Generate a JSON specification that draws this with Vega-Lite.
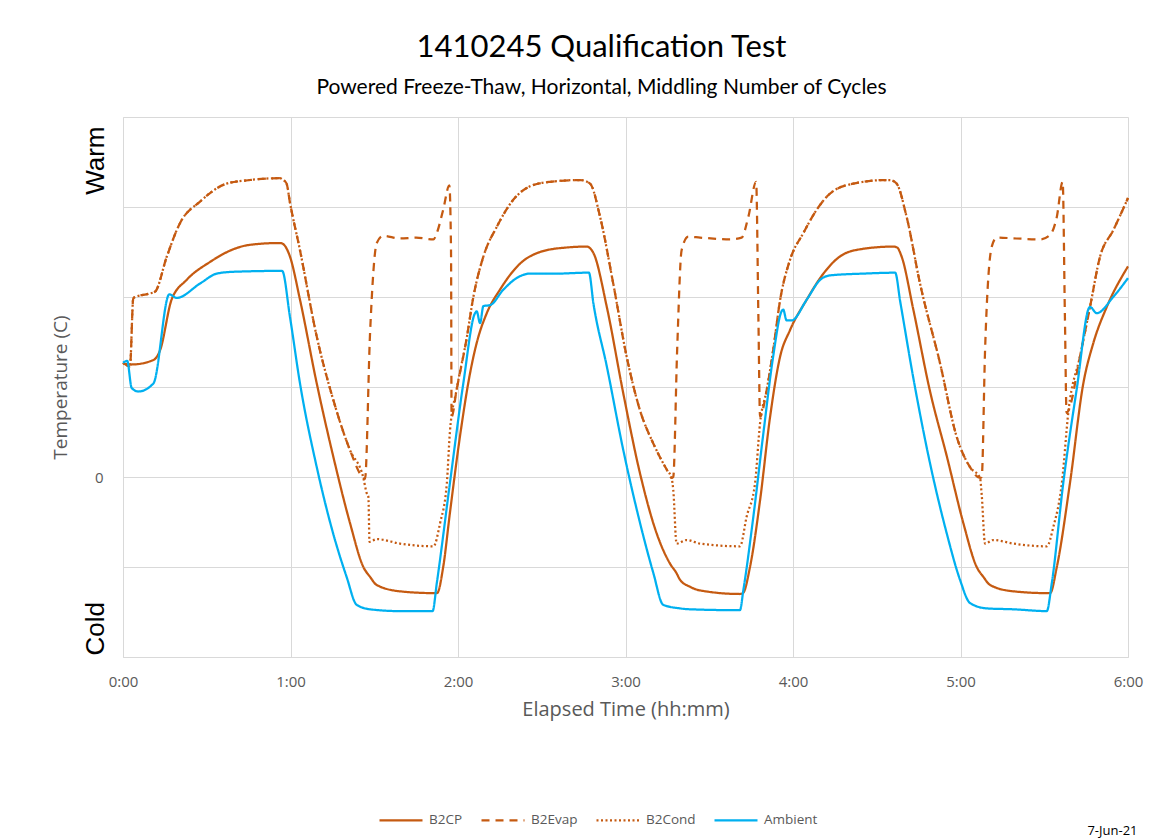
{
  "$schema": "https://vega.github.io/schema/vega-lite/v6.json",
  "width": 1005,
  "height": 540,
  "autosize": "none",
  "padding": {"left": 123, "top": 117, "right": 45, "bottom": 182},
  "background": "white",
  "config": {"view": {"stroke": null}, "font": "Open Sans"},
  "title": {
    "text": "1410245 Qualification Test",
    "subtitle": "Powered Freeze-Thaw, Horizontal, Middling Number of Cycles",
    "font": "Lato", "fontSize": 31, "fontWeight": "normal", "color": "black",
    "subtitleFont": "Lato", "subtitleFontSize": 21, "subtitleColor": "black",
    "anchor": "middle", "frame": "group", "dx": -24, "offset": 18, "subtitlePadding": 13
  },
  "datasets": {
    "temps": [
      {"series":"B2CP","min":0,"temp":12.6},{"series":"B2CP","min":3.1,"temp":12.5},{"series":"B2CP","min":10.9,"temp":13.0},{"series":"B2CP","min":13.3,"temp":14.1},{"series":"B2CP","min":17.4,"temp":19.7},{"series":"B2CP","min":22.8,"temp":21.9},{"series":"B2CP","min":31.2,"temp":23.9},{"series":"B2CP","min":39.5,"temp":25.3},{"series":"B2CP","min":45.5,"temp":25.8},{"series":"B2CP","min":56.3,"temp":26.0},{"series":"B2CP","min":57.3,"temp":25.9},{"series":"B2CP","min":59.8,"temp":24.5},{"series":"B2CP","min":63.4,"temp":19.7},{"series":"B2CP","min":69.4,"temp":10.4},{"series":"B2CP","min":75.3,"temp":2.3},{"series":"B2CP","min":81.3,"temp":-5.1},{"series":"B2CP","min":86.1,"temp":-10.0},{"series":"B2CP","min":88.5,"temp":-11.1},{"series":"B2CP","min":90.9,"temp":-12.0},{"series":"B2CP","min":99.2,"temp":-12.7},{"series":"B2CP","min":111.2,"temp":-12.9},{"series":"B2CP","min":112.5,"temp":-12.9},{"series":"B2CP","min":114.7,"temp":-10.0},{"series":"B2CP","min":117.1,"temp":-4.0},{"series":"B2CP","min":120.7,"temp":4.5},{"series":"B2CP","min":124.3,"temp":11.5},{"series":"B2CP","min":126.7,"temp":14.9},{"series":"B2CP","min":130.3,"temp":18.2},{"series":"B2CP","min":135.0,"temp":20.8},{"series":"B2CP","min":142.2,"temp":23.7},{"series":"B2CP","min":149.4,"temp":25.0},{"series":"B2CP","min":158.9,"temp":25.5},{"series":"B2CP","min":166.1,"temp":25.6},{"series":"B2CP","min":168.5,"temp":24.9},{"series":"B2CP","min":173.3,"temp":18.9},{"series":"B2CP","min":179.2,"temp":9.3},{"series":"B2CP","min":185.2,"temp":0.4},{"series":"B2CP","min":191.2,"temp":-6.3},{"series":"B2CP","min":195.9,"temp":-9.6},{"series":"B2CP","min":198.3,"temp":-10.7},{"series":"B2CP","min":199.5,"temp":-11.4},{"series":"B2CP","min":203.1,"temp":-12.2},{"series":"B2CP","min":206.7,"temp":-12.6},{"series":"B2CP","min":221.0,"temp":-13.0},{"series":"B2CP","min":222.1,"temp":-12.9},{"series":"B2CP","min":224.6,"temp":-10.0},{"series":"B2CP","min":228.2,"temp":-2.6},{"series":"B2CP","min":231.8,"temp":6.7},{"series":"B2CP","min":235.4,"temp":13.4},{"series":"B2CP","min":238.9,"temp":16.3},{"series":"B2CP","min":244.9,"temp":19.7},{"series":"B2CP","min":250.9,"temp":22.6},{"series":"B2CP","min":256.8,"temp":24.5},{"series":"B2CP","min":264.0,"temp":25.3},{"series":"B2CP","min":275.9,"temp":25.6},{"series":"B2CP","min":277.3,"temp":25.5},{"series":"B2CP","min":278.9,"temp":24.5},{"series":"B2CP","min":283.1,"temp":18.6},{"series":"B2CP","min":289.1,"temp":9.5},{"series":"B2CP","min":295.1,"temp":2.3},{"series":"B2CP","min":301.0,"temp":-5.1},{"series":"B2CP","min":305.8,"temp":-10.0},{"series":"B2CP","min":308.2,"temp":-11.1},{"series":"B2CP","min":310.6,"temp":-12.0},{"series":"B2CP","min":318.9,"temp":-12.7},{"series":"B2CP","min":330.9,"temp":-12.9},{"series":"B2CP","min":332.1,"temp":-12.9},{"series":"B2CP","min":334.5,"temp":-10.0},{"series":"B2CP","min":339.2,"temp":-0.7},{"series":"B2CP","min":344.0,"temp":10.4},{"series":"B2CP","min":347.6,"temp":14.9},{"series":"B2CP","min":352.4,"temp":18.9},{"series":"B2CP","min":360,"temp":23.4},

      {"series":"B2Evap","min":0,"temp":12.7},{"series":"B2Evap","min":2.5,"temp":12.3},{"series":"B2Evap","min":3.7,"temp":19.9},{"series":"B2Evap","min":9.7,"temp":20.4},{"series":"B2Evap","min":11.5,"temp":20.6},{"series":"B2Evap","min":15.7,"temp":24.5},{"series":"B2Evap","min":20.4,"temp":28.2},{"series":"B2Evap","min":27.6,"temp":30.6},{"series":"B2Evap","min":37.1,"temp":32.6},{"series":"B2Evap","min":45.5,"temp":33.0},{"series":"B2Evap","min":56.2,"temp":33.2},{"series":"B2Evap","min":57.4,"temp":33.0},{"series":"B2Evap","min":58.6,"temp":32.6},{"series":"B2Evap","min":59.8,"temp":30.5},{"series":"B2Evap","min":63.4,"temp":25.2},{"series":"B2Evap","min":69.4,"temp":15.6},{"series":"B2Evap","min":75.3,"temp":8.6},{"series":"B2Evap","min":81.3,"temp":3.0},{"series":"B2Evap","min":86.1,"temp":-0.1},{"series":"B2Evap","min":86.7,"temp":-0.2},{"series":"B2Evap","min":88.5,"temp":16.0},{"series":"B2Evap","min":90.9,"temp":26.0},{"series":"B2Evap","min":93.2,"temp":26.8},{"series":"B2Evap","min":99.2,"temp":26.5},{"series":"B2Evap","min":105.0,"temp":26.6},{"series":"B2Evap","min":111.2,"temp":26.4},{"series":"B2Evap","min":112.4,"temp":27.1},{"series":"B2Evap","min":114.7,"temp":29.7},{"series":"B2Evap","min":116.9,"temp":32.4},{"series":"B2Evap","min":117.5,"temp":25.2},{"series":"B2Evap","min":117.7,"temp":6.7},{"series":"B2Evap","min":119.5,"temp":9.7},{"series":"B2Evap","min":123.1,"temp":15.4},{"series":"B2Evap","min":125.5,"temp":20.0},{"series":"B2Evap","min":129.1,"temp":24.5},{"series":"B2Evap","min":133.9,"temp":27.8},{"series":"B2Evap","min":139.8,"temp":30.8},{"series":"B2Evap","min":145.8,"temp":32.3},{"series":"B2Evap","min":153.0,"temp":32.8},{"series":"B2Evap","min":163.7,"temp":33.0},{"series":"B2Evap","min":167.3,"temp":32.6},{"series":"B2Evap","min":170.9,"temp":28.9},{"series":"B2Evap","min":175.6,"temp":21.5},{"series":"B2Evap","min":180.4,"temp":13.4},{"series":"B2Evap","min":185.2,"temp":7.4},{"series":"B2Evap","min":190.0,"temp":3.7},{"series":"B2Evap","min":194.8,"temp":0.8},{"series":"B2Evap","min":196.5,"temp":-0.1},{"series":"B2Evap","min":197.1,"temp":0.0},{"series":"B2Evap","min":198.5,"temp":14.1},{"series":"B2Evap","min":200.1,"temp":25.2},{"series":"B2Evap","min":202.5,"temp":26.7},{"series":"B2Evap","min":206.7,"temp":26.6},{"series":"B2Evap","min":217.4,"temp":26.4},{"series":"B2Evap","min":221.6,"temp":26.6},{"series":"B2Evap","min":224.0,"temp":28.9},{"series":"B2Evap","min":226.8,"temp":32.8},{"series":"B2Evap","min":227.6,"temp":17.8},{"series":"B2Evap","min":228.2,"temp":6.7},{"series":"B2Evap","min":230.6,"temp":9.7},{"series":"B2Evap","min":232.9,"temp":14.1},{"series":"B2Evap","min":235.4,"temp":19.7},{"series":"B2Evap","min":238.9,"temp":24.1},{"series":"B2Evap","min":243.7,"temp":27.1},{"series":"B2Evap","min":248.5,"temp":29.7},{"series":"B2Evap","min":253.3,"temp":31.5},{"series":"B2Evap","min":261.6,"temp":32.6},{"series":"B2Evap","min":273.6,"temp":33.0},{"series":"B2Evap","min":274.7,"temp":33.0},{"series":"B2Evap","min":277.1,"temp":32.6},{"series":"B2Evap","min":280.7,"temp":28.9},{"series":"B2Evap","min":285.5,"temp":21.5},{"series":"B2Evap","min":292.7,"temp":12.6},{"series":"B2Evap","min":298.6,"temp":4.5},{"series":"B2Evap","min":303.4,"temp":1.1},{"series":"B2Evap","min":307.0,"temp":-0.1},{"series":"B2Evap","min":307.6,"temp":0.0},{"series":"B2Evap","min":308.8,"temp":14.1},{"series":"B2Evap","min":311.2,"temp":25.6},{"series":"B2Evap","min":313.0,"temp":26.6},{"series":"B2Evap","min":320.0,"temp":26.5},{"series":"B2Evap","min":328.5,"temp":26.4},{"series":"B2Evap","min":332.1,"temp":26.9},{"series":"B2Evap","min":334.5,"temp":28.9},{"series":"B2Evap","min":336.6,"temp":32.8},{"series":"B2Evap","min":337.4,"temp":17.8},{"series":"B2Evap","min":338.0,"temp":7.1},{"series":"B2Evap","min":338.7,"temp":7.4},{"series":"B2Evap","min":342.8,"temp":13.4},{"series":"B2Evap","min":346.4,"temp":18.9},{"series":"B2Evap","min":350.0,"temp":24.5},{"series":"B2Evap","min":354.7,"temp":27.4},{"series":"B2Evap","min":360,"temp":31.0},

      {"series":"B2Cond","min":0,"temp":12.7},{"series":"B2Cond","min":2.5,"temp":12.3},{"series":"B2Cond","min":3.7,"temp":19.9},{"series":"B2Cond","min":9.7,"temp":20.4},{"series":"B2Cond","min":11.5,"temp":20.6},{"series":"B2Cond","min":15.7,"temp":24.5},{"series":"B2Cond","min":20.4,"temp":28.2},{"series":"B2Cond","min":27.6,"temp":30.6},{"series":"B2Cond","min":37.1,"temp":32.6},{"series":"B2Cond","min":45.5,"temp":33.0},{"series":"B2Cond","min":56.2,"temp":33.2},{"series":"B2Cond","min":57.4,"temp":33.0},{"series":"B2Cond","min":58.6,"temp":32.6},{"series":"B2Cond","min":59.8,"temp":30.5},{"series":"B2Cond","min":63.4,"temp":25.2},{"series":"B2Cond","min":69.4,"temp":15.6},{"series":"B2Cond","min":75.3,"temp":8.6},{"series":"B2Cond","min":81.3,"temp":3.0},{"series":"B2Cond","min":86.1,"temp":-0.1},{"series":"B2Cond","min":87.3,"temp":-1.8},{"series":"B2Cond","min":87.9,"temp":-2.2},{"series":"B2Cond","min":88.3,"temp":-7.2},{"series":"B2Cond","min":90.9,"temp":-6.9},{"series":"B2Cond","min":99.2,"temp":-7.4},{"series":"B2Cond","min":111.2,"temp":-7.7},{"series":"B2Cond","min":113.6,"temp":-5.1},{"series":"B2Cond","min":116.0,"temp":-0.7},{"series":"B2Cond","min":117.1,"temp":5.0},{"series":"B2Cond","min":119.5,"temp":9.7},{"series":"B2Cond","min":123.1,"temp":15.4},{"series":"B2Cond","min":125.5,"temp":20.0},{"series":"B2Cond","min":129.1,"temp":24.5},{"series":"B2Cond","min":133.9,"temp":27.8},{"series":"B2Cond","min":139.8,"temp":30.8},{"series":"B2Cond","min":145.8,"temp":32.3},{"series":"B2Cond","min":153.0,"temp":32.8},{"series":"B2Cond","min":163.7,"temp":33.0},{"series":"B2Cond","min":167.3,"temp":32.6},{"series":"B2Cond","min":170.9,"temp":28.9},{"series":"B2Cond","min":175.6,"temp":21.5},{"series":"B2Cond","min":180.4,"temp":13.4},{"series":"B2Cond","min":185.2,"temp":7.4},{"series":"B2Cond","min":190.0,"temp":3.7},{"series":"B2Cond","min":194.8,"temp":0.8},{"series":"B2Cond","min":196.5,"temp":-0.1},{"series":"B2Cond","min":197.1,"temp":-1.4},{"series":"B2Cond","min":198.3,"temp":-7.4},{"series":"B2Cond","min":201.9,"temp":-7.0},{"series":"B2Cond","min":206.7,"temp":-7.4},{"series":"B2Cond","min":221.0,"temp":-7.7},{"series":"B2Cond","min":223.4,"temp":-4.4},{"series":"B2Cond","min":226.4,"temp":-0.7},{"series":"B2Cond","min":228.2,"temp":6.0},{"series":"B2Cond","min":230.6,"temp":9.7},{"series":"B2Cond","min":232.9,"temp":14.1},{"series":"B2Cond","min":235.4,"temp":19.7},{"series":"B2Cond","min":238.9,"temp":24.1},{"series":"B2Cond","min":243.7,"temp":27.1},{"series":"B2Cond","min":248.5,"temp":29.7},{"series":"B2Cond","min":253.3,"temp":31.5},{"series":"B2Cond","min":261.6,"temp":32.6},{"series":"B2Cond","min":273.6,"temp":33.0},{"series":"B2Cond","min":274.7,"temp":33.0},{"series":"B2Cond","min":277.1,"temp":32.6},{"series":"B2Cond","min":280.7,"temp":28.9},{"series":"B2Cond","min":285.5,"temp":21.5},{"series":"B2Cond","min":292.7,"temp":12.6},{"series":"B2Cond","min":298.6,"temp":4.5},{"series":"B2Cond","min":303.4,"temp":1.1},{"series":"B2Cond","min":307.0,"temp":-0.1},{"series":"B2Cond","min":307.6,"temp":-2.0},{"series":"B2Cond","min":308.8,"temp":-7.4},{"series":"B2Cond","min":311.8,"temp":-7.0},{"series":"B2Cond","min":318.9,"temp":-7.4},{"series":"B2Cond","min":330.9,"temp":-7.7},{"series":"B2Cond","min":333.3,"temp":-5.5},{"series":"B2Cond","min":336.3,"temp":-0.7},{"series":"B2Cond","min":338.7,"temp":7.4},{"series":"B2Cond","min":342.8,"temp":13.4},{"series":"B2Cond","min":346.4,"temp":18.9},{"series":"B2Cond","min":350.0,"temp":24.5},{"series":"B2Cond","min":354.7,"temp":27.4},{"series":"B2Cond","min":360,"temp":31.0},

      {"series":"Ambient","min":0,"temp":12.7},{"series":"Ambient","min":1.5,"temp":12.9},{"series":"Ambient","min":3.1,"temp":9.9},{"series":"Ambient","min":5.5,"temp":9.5},{"series":"Ambient","min":10.9,"temp":10.4},{"series":"Ambient","min":16.6,"temp":20.3},{"series":"Ambient","min":19.2,"temp":19.9},{"series":"Ambient","min":27.6,"temp":21.5},{"series":"Ambient","min":33.6,"temp":22.6},{"series":"Ambient","min":39.5,"temp":22.8},{"series":"Ambient","min":56.2,"temp":22.9},{"series":"Ambient","min":57.0,"temp":22.9},{"series":"Ambient","min":59.8,"temp":17.8},{"series":"Ambient","min":63.4,"temp":10.4},{"series":"Ambient","min":69.4,"temp":1.1},{"series":"Ambient","min":75.3,"temp":-6.3},{"series":"Ambient","min":80.1,"temp":-11.1},{"series":"Ambient","min":83.7,"temp":-14.2},{"series":"Ambient","min":88.5,"temp":-14.7},{"series":"Ambient","min":99.2,"temp":-14.9},{"series":"Ambient","min":110.9,"temp":-14.9},{"series":"Ambient","min":112.4,"temp":-11.8},{"series":"Ambient","min":117.1,"temp":-0.7},{"series":"Ambient","min":121.9,"temp":10.4},{"series":"Ambient","min":126.1,"temp":18.2},{"series":"Ambient","min":126.7,"temp":18.4},{"series":"Ambient","min":127.9,"temp":17.1},{"series":"Ambient","min":129.1,"temp":19.0},{"series":"Ambient","min":131.5,"temp":19.1},{"series":"Ambient","min":136.2,"temp":20.8},{"series":"Ambient","min":141.0,"temp":22.1},{"series":"Ambient","min":145.8,"temp":22.6},{"series":"Ambient","min":155.4,"temp":22.6},{"series":"Ambient","min":166.1,"temp":22.7},{"series":"Ambient","min":166.9,"temp":22.7},{"series":"Ambient","min":168.5,"temp":19.3},{"series":"Ambient","min":173.3,"temp":12.3},{"series":"Ambient","min":179.2,"temp":3.0},{"series":"Ambient","min":185.2,"temp":-5.1},{"series":"Ambient","min":190.0,"temp":-10.7},{"series":"Ambient","min":193.5,"temp":-14.2},{"series":"Ambient","min":199.5,"temp":-14.6},{"series":"Ambient","min":203.1,"temp":-14.7},{"series":"Ambient","min":221.0,"temp":-14.8},{"series":"Ambient","min":222.2,"temp":-12.6},{"series":"Ambient","min":225.8,"temp":-4.4},{"series":"Ambient","min":229.4,"temp":4.9},{"series":"Ambient","min":232.9,"temp":13.4},{"series":"Ambient","min":235.9,"temp":18.4},{"series":"Ambient","min":236.5,"temp":18.6},{"series":"Ambient","min":237.7,"temp":17.4},{"series":"Ambient","min":239.5,"temp":17.4},{"series":"Ambient","min":244.9,"temp":19.7},{"series":"Ambient","min":249.7,"temp":21.9},{"series":"Ambient","min":253.3,"temp":22.4},{"series":"Ambient","min":265.2,"temp":22.6},{"series":"Ambient","min":276.6,"temp":22.7},{"series":"Ambient","min":278.4,"temp":19.5},{"series":"Ambient","min":283.1,"temp":11.0},{"series":"Ambient","min":289.1,"temp":1.5},{"series":"Ambient","min":295.1,"temp":-6.3},{"series":"Ambient","min":299.8,"temp":-11.4},{"series":"Ambient","min":303.4,"temp":-14.0},{"series":"Ambient","min":309.4,"temp":-14.6},{"series":"Ambient","min":318.9,"temp":-14.7},{"series":"Ambient","min":330.9,"temp":-14.9},{"series":"Ambient","min":332.7,"temp":-11.8},{"series":"Ambient","min":336.8,"temp":-0.7},{"series":"Ambient","min":341.6,"temp":9.7},{"series":"Ambient","min":346.4,"temp":18.9},{"series":"Ambient","min":348.8,"temp":18.2},{"series":"Ambient","min":354.7,"temp":20.0},{"series":"Ambient","min":360,"temp":22.1}
    ]
  },
  "data": {"name": "temps"},
  "layer": [
    {
      "mark": {"type": "line", "strokeWidth": 2.25, "interpolate": "monotone"},
      "encoding": {
        "x": {
          "field": "min", "type": "quantitative",
          "scale": {"domain": [0, 360], "nice": false, "zero": false},
          "axis": {
            "orient": "bottom",
            "values": [0, 60, 120, 180, 240, 300, 360],
            "labelExpr": "floor(datum.value / 60) + ':00'",
            "title": "Elapsed Time (hh:mm)",
            "grid": true, "gridColor": "#D9D9D9", "gridWidth": 1,
            "domainColor": "#D9D9D9", "ticks": false,
            "labelFontSize": 15, "labelColor": "#595959", "labelPadding": 17,
            "labelFlush": false,
            "titleFontSize": 20, "titleColor": "#595959", "titleFontWeight": "normal", "titlePadding": 10
          }
        },
        "y": {
          "field": "temp", "type": "quantitative",
          "scale": {"domain": [-20, 40], "nice": false, "zero": false},
          "axis": {
            "orient": "left",
            "values": [-20, -10, 0, 10, 20, 30, 40],
            "labelExpr": "datum.value == 0 ? '0' : ''",
            "title": "Temperature (C)",
            "grid": true, "gridColor": "#D9D9D9", "gridWidth": 1,
            "domainColor": "#D9D9D9", "ticks": false,
            "labelFontSize": 15, "labelColor": "#595959", "labelPadding": 20,
            "titleFontSize": 19, "titleColor": "#595959", "titleFontWeight": "normal", "titlePadding": 24
          }
        },
        "color": {
          "field": "series", "type": "nominal",
          "scale": {"domain": ["B2CP", "B2Evap", "B2Cond", "Ambient"], "range": ["#C55A11", "#C55A11", "#C55A11", "#00B0F0"]},
          "legend": {
            "orient": "none", "legendX": 255, "legendY": 680, "direction": "horizontal", "title": null,
            "symbolType": "stroke", "symbolSize": 1849, "symbolStrokeWidth": 2.25,
            "labelFontSize": 13.5, "labelColor": "#595959", "columnPadding": 14, "labelOffset": 5
          }
        },
        "strokeDash": {
          "field": "series", "type": "nominal",
          "scale": {"domain": ["B2CP", "B2Evap", "B2Cond", "Ambient"], "range": [[1, 0], [8, 6], [2, 2.5], [1, 0]]},
          "legend": {
            "orient": "none", "legendX": 255, "legendY": 680, "direction": "horizontal", "title": null,
            "symbolType": "stroke", "symbolSize": 1849, "symbolStrokeWidth": 2.25,
            "labelFontSize": 13.5, "labelColor": "#595959", "columnPadding": 14, "labelOffset": 5
          }
        }
      }
    },
    {
      "mark": {"type": "line", "opacity": 0},
      "encoding": {
        "x": {
          "field": "min", "type": "quantitative",
          "scale": {"domain": [0, 360], "nice": false, "zero": false},
          "axis": {
            "orient": "bottom", "labels": false, "ticks": false, "domain": false, "grid": false,
            "title": "7-Jun-21", "titleFontSize": 13, "titleColor": "black", "titleFontWeight": "normal",
            "titleX": 1014, "titleY": 173, "titleAlign": "right", "titleBaseline": "middle"
          }
        },
        "y": {
          "field": "temp", "type": "quantitative",
          "scale": {"domain": [-20, 40], "nice": false, "zero": false},
          "axis": {
            "orient": "left", "values": [-16.8, 35.2],
            "labelExpr": "datum.value > 0 ? 'Warm' : 'Cold'",
            "grid": false, "domain": false, "ticks": false,
            "labelAngle": -90, "labelFontSize": 26, "labelFont": "Liberation Sans", "labelColor": "black",
            "labelPadding": 15, "labelOverlap": false, "title": null
          }
        }
      }
    }
  ],
  "resolve": {"axis": {"x": "independent", "y": "independent"}}
}
